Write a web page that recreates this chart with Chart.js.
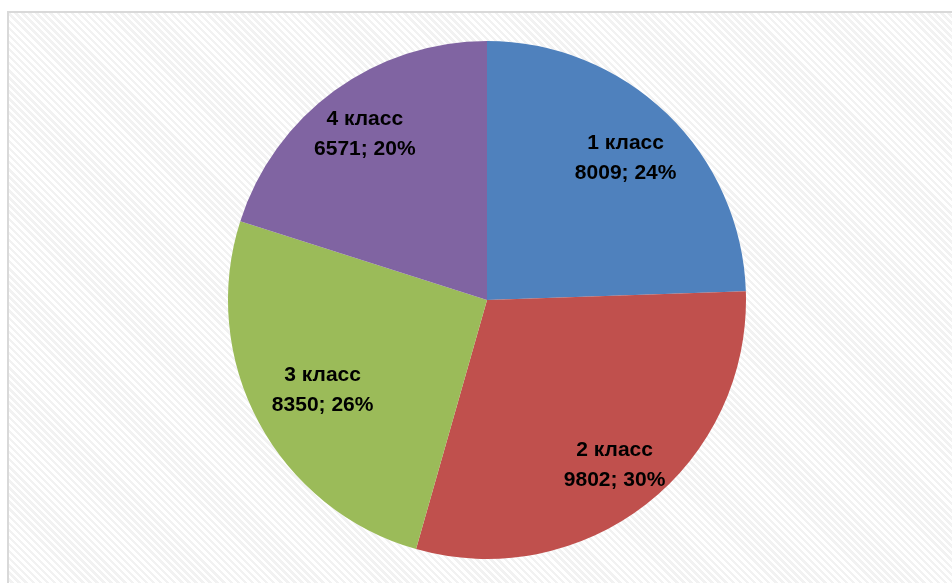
<!DOCTYPE html>
<html>
<head>
<meta charset="utf-8">
<script src="https://cdn.jsdelivr.net/npm/chart.js@4/dist/chart.umd.min.js"></script>
<style>
html,body{margin:0;padding:0;background:#fff;}
#wrap{position:relative;width:952px;height:583px;overflow:hidden;background:#fff;}
#frame{position:absolute;left:7px;top:11px;width:960px;height:600px;border:2px solid #d9d9d9;
background:repeating-linear-gradient(45deg,#ffffff 0px,#ffffff 2.5px,#f2f2f2 2.5px,#f2f2f2 5px);}
canvas{position:absolute;left:0;top:0;}
</style>
</head>
<body>
<div id="wrap">
<div id="frame"></div>
<canvas id="c" width="952" height="583"></canvas>
</div>
<script>
const categories = ["1 класс", "2 класс", "3 класс", "4 класс"];
const values = [8009, 9802, 8350, 6571];
const percentLabels = ["24%", "30%", "26%", "20%"];
const colors = ["#4F81BD", "#C0504D", "#9BBB59", "#8064A2"];
const labelRadius = [0.77, 0.80, 0.72, 0.80];

const labelPlugin = {
  id: 'sliceLabels',
  afterDatasetsDraw(chart) {
    const ctx = chart.ctx;
    const meta = chart.getDatasetMeta(0);
    ctx.save();
    ctx.font = 'bold 21px "Liberation Sans", Arial, sans-serif';
    ctx.fillStyle = '#000';
    ctx.textAlign = 'center';
    ctx.textBaseline = 'middle';
    meta.data.forEach((arc, i) => {
      const p = arc.getProps(['x','y','startAngle','endAngle','outerRadius'], true);
      const mid = (p.startAngle + p.endAngle) / 2;
      const r = p.outerRadius * labelRadius[i];
      const x = p.x + Math.cos(mid) * r;
      const y = p.y + Math.sin(mid) * r;
      ctx.fillText(categories[i], x, y - 13);
      ctx.fillText(values[i] + '; ' + percentLabels[i], x, y + 17);
    });
    ctx.restore();
  }
};

new Chart(document.getElementById('c'), {
  type: 'pie',
  data: {
    labels: categories,
    datasets: [{
      data: values,
      backgroundColor: colors,
      borderWidth: 0
    }]
  },
  options: {
    responsive: false,
    animation: false,
    layout: { padding: { top: 41, bottom: 24, left: 22, right: 0 } },
    plugins: {
      legend: { display: false },
      tooltip: { enabled: false }
    }
  },
  plugins: [labelPlugin]
});
</script>
</body>
</html>
